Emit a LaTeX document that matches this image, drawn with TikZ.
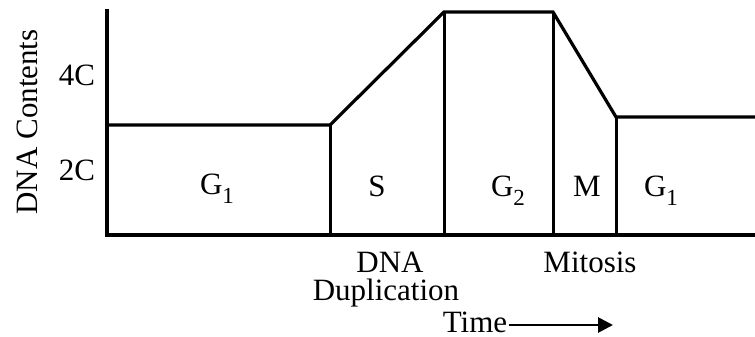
\documentclass[tikz,border=0pt]{standalone}
\usepackage{fontspec}
\setmainfont{Liberation Serif}
\usetikzlibrary{arrows.meta}
\newcommand{\lowsub}[1]{\raisebox{-0.3em}{\fontsize{11.5}{12}\selectfont #1}}
\begin{document}
\begin{tikzpicture}[x=0.5pt,y=-0.5pt,
  curve/.style={line width=1.6pt,line join=miter},
  sep/.style={line width=1.5pt},
  lbl/.style={font=\fontsize{15.5}{18}\selectfont,inner sep=0pt,anchor=base},
  ]
\useasboundingbox (0,0) rectangle (755,337);
% key points
\coordinate (ytop) at (107,9);
\coordinate (o) at (107,235);
\coordinate (xend) at (755,235);
\coordinate (a) at (107,125);
\coordinate (b) at (330,125);
\coordinate (c) at (444,12);
\coordinate (d) at (553,12);
\coordinate (e) at (616,117);
\coordinate (f) at (755,117);
\coordinate (bb) at (330,235);
\coordinate (cb) at (444,235);
\coordinate (db) at (553,235);
\coordinate (eb) at (616,235);
% axes
\draw[curve] (ytop) -- (o) -- (xend);
% content curve
\draw[curve] (a) -- (b) -- (c) -- (d) -- (e) -- (f);
% phase separators
\draw[sep] (b) -- (bb);
\draw[sep] (c) -- (cb);
\draw[sep] (d) -- (db);
\draw[sep] (e) -- (eb);
% labels
\node[lbl,rotate=90] (ylab) at (37,122) {DNA Contents};
\node[lbl] (c4) at (77,85) {4C};
\node[lbl] (c2) at (77,180) {2C};
\node[lbl] (g1a) at (217,194) {G\lowsub{1}};
\node[lbl] (s) at (377,196) {S};
\node[lbl] (g2) at (508,196) {G\lowsub{2}};
\node[lbl] (m) at (587,196) {M};
\node[lbl] (g1b) at (661,196) {G\lowsub{1}};
\node[lbl] (dna) at (390,272) {DNA};
\node[lbl] (dup) at (386,300) {Duplication};
\node[lbl] (mit) at (590,272) {Mitosis};
\node[lbl] (time) at (475,332) {Time};
\coordinate (arrend) at (613,325);
\draw[line width=1.4pt,-{Triangle[length=7.5pt,width=7.5pt]}] (time.east |- arrend) ++(1,0) -- (arrend);
\end{tikzpicture}
\end{document}
